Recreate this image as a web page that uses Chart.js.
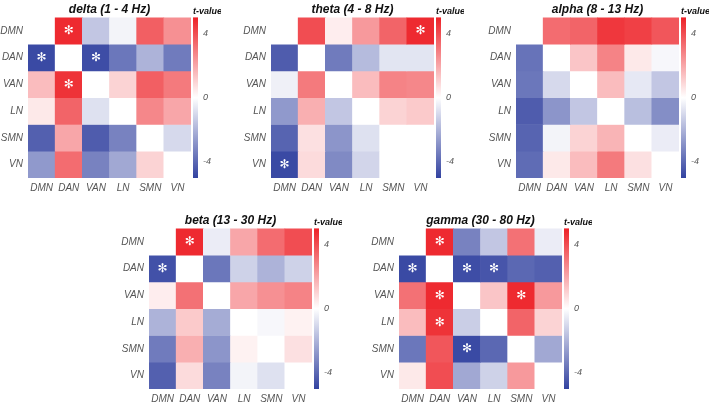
<!DOCTYPE html>
<html>
<head>
<meta charset="utf-8">
<script src="https://cdn.jsdelivr.net/npm/chart.js@4.4.1/dist/chart.umd.min.js"></script>
<style>
  html, body { margin: 0; padding: 0; background: #fff; }
  #wrap { position: relative; width: 709px; height: 402px; overflow: hidden; }
  #wrap canvas { position: absolute; }
</style>
</head>
<body>
<div id="wrap"></div>
<script>
// networks (rows = columns)
const networks = ['DMN', 'DAN', 'VAN', 'LN', 'SMN', 'VN'];

// colour bar
const tMin = -5;
const tMax = 5;
const cbTicks = [-4, 0, 4];

// t-values, row by row (DMN .. VN)
const deltaT = [
  [0, 4.8, -1.5, -0.3, 3.6, 2.5],
  [-4.8, 0, -4.7, -3.6, -2.0, -3.5],
  [1.5, 4.6, 0, 1.0, 3.6, 3.0],
  [0.5, 3.5, -0.8, 0, 2.7, 2.0],
  [-4.2, 2.0, -4.3, -3.3, 0, -1.0],
  [-2.7, 3.3, -3.3, -2.3, 1.0, 0]
];
const thetaT = [
  [0, 4.0, 0.4, 2.3, 3.5, 4.8],
  [-4.3, 0, -3.5, -1.8, -0.7, -0.7],
  [-0.4, 3.0, 0, 1.5, 2.8, 2.7],
  [-2.7, 1.8, -1.5, 0, 1.0, 1.2],
  [-4.1, 0.7, -2.8, -0.8, 0, 0],
  [-4.8, 0.8, -3.1, -1.1, 0, 0]
];
const alphaT = [
  [0, 3.3, 3.5, 4.5, 4.3, 3.8],
  [-3.7, 0, 1.3, 2.8, 0.5, -0.2],
  [-3.6, -1.0, 0, 1.5, -0.6, -1.5],
  [-4.3, -2.8, -1.5, 0, -1.7, -3.0],
  [-4.1, -0.3, 1.0, 1.7, 0, -0.5],
  [-3.9, 0.5, 1.5, 3.0, 0.7, 0]
];
const betaT = [
  [0, 4.8, -0.5, 2.0, 3.3, 4.0],
  [-4.6, 0, -3.6, -1.2, -2.0, -1.2],
  [0.4, 3.2, 0, 2.0, 2.5, 2.8],
  [-2.0, 1.2, -2.2, 0, -0.2, 0.3],
  [-3.5, 1.8, -2.8, 0.3, 0, 0.7],
  [-4.2, 0.8, -3.3, -0.3, -0.8, 0]
];
const gammaT = [
  [0, 4.8, -3.3, -1.5, 3.2, -0.5],
  [-4.8, 0, -4.7, -4.5, -4.0, -4.2],
  [3.2, 4.8, 0, 1.3, 4.8, 2.3],
  [1.5, 4.6, -1.3, 0, 3.5, 1.0],
  [-3.6, 3.8, -4.8, -4.0, 0, -2.3],
  [0.5, 4.0, -2.3, -1.2, 2.3, 0]
];

// significant cells [row, col]
const deltaSig = [[0, 1], [1, 0], [1, 2], [2, 1]];
const thetaSig = [[0, 5], [5, 0]];
const alphaSig = [];
const betaSig = [[0, 1], [1, 0]];
const gammaSig = [[0, 1], [1, 0], [1, 2], [1, 3], [2, 1], [2, 4], [3, 1], [4, 2]];

const RED = [237, 33, 39];
const BLUE = [50, 66, 160];
const FONT = "'Liberation Sans', Arial, sans-serif";

function tColor(v) {
  const t = Math.max(-1, Math.min(1, v / tMax));
  const end = t >= 0 ? RED : BLUE;
  const a = Math.abs(t);
  const c = end.map(e => Math.round(255 + (e - 255) * a));
  return `rgb(${c[0]},${c[1]},${c[2]})`;
}

// titel, kleurbalk en sterretjes
const heatPlugin = {
  id: 'heatExtras',
  afterDatasetsDraw(chart) {
    const { ctx, scales } = chart;
    const p = chart.options.plugins.heatExtras;
    // sterretjes
    ctx.save();
    ctx.fillStyle = '#fff';
    ctx.font = `12px 'DejaVu Sans', sans-serif`;
    ctx.textAlign = 'center';
    ctx.textBaseline = 'middle';
    p.sig.forEach(([r, c]) => {
      const x = scales.x.getPixelForValue(c);
      const y = scales.y.getPixelForValue(r + 0.5);
      ctx.fillText('✻', x, y + 0.5);
    });
    ctx.restore();
  },
  afterDraw(chart) {
    const { ctx, chartArea, scales } = chart;
    const p = chart.options.plugins.heatExtras;
    ctx.save();
    // kleurbalk
    const cb = scales.cb;
    const y0 = cb.getPixelForValue(tMax);
    const y1 = cb.getPixelForValue(tMin);
    const g = ctx.createLinearGradient(0, y0, 0, y1);
    g.addColorStop(0, tColor(tMax));
    g.addColorStop(0.5, tColor(0));
    g.addColorStop(1, tColor(tMin));
    ctx.fillStyle = g;
    ctx.fillRect(chartArea.right + 2, y0, 5, y1 - y0);
    // titel
    ctx.fillStyle = '#111';
    ctx.font = `italic bold 12px ${FONT}`;
    ctx.textAlign = 'center';
    ctx.textBaseline = 'middle';
    ctx.fillText(p.title, (chartArea.left + chartArea.right) / 2, chartArea.top - 8);
    ctx.font = `italic bold 9px ${FONT}`;
    ctx.textAlign = 'left';
    ctx.fillText('t-value', chartArea.right + 2, chartArea.top - 6);
    ctx.restore();
  }
};

function drawPanel(title, values, sig, left, top) {
  const canvas = document.createElement('canvas');
  canvas.width = 233;
  canvas.height = 200;
  canvas.style.left = (left - 40) + 'px';
  canvas.style.top = (top - 15) + 'px';
  document.getElementById('wrap').appendChild(canvas);

  const datasets = networks.map((rowName, r) => ({
    label: rowName,
    data: networks.map(() => [r, r + 1]),
    backgroundColor: ctx => tColor(values[r][ctx.dataIndex]),
    borderWidth: 0,
    barPercentage: 1,
    categoryPercentage: 1,
    grouped: false,
    yAxisID: 'y'
  }));

  new Chart(canvas.getContext('2d'), {
    type: 'bar',
    data: { labels: networks, datasets: datasets },
    options: {
      responsive: false,
      animation: false,
      layout: { padding: { top: 15, left: 0, right: 0, bottom: 0 } },
      plugins: {
        legend: { display: false },
        tooltip: { enabled: false },
        heatExtras: { title: title, sig: sig }
      },
      scales: {
        x: {
          grid: { display: false, drawTicks: false },
          border: { display: false },
          ticks: {
            autoSkip: false, maxRotation: 0, padding: 4,
            color: '#555', font: { family: FONT, size: 10, style: 'italic' }
          },
          afterFit: s => { s.height = 22; }
        },
        y: {
          type: 'linear', min: 0, max: 6, reverse: true, position: 'left',
          grid: { display: false, drawTicks: false },
          border: { display: false },
          afterBuildTicks: s => { s.ticks = networks.map((n, i) => ({ value: i + 0.5 })); },
          ticks: {
            padding: 5, color: '#555',
            font: { family: FONT, size: 10, style: 'italic' },
            callback: v => networks[Math.floor(v)]
          },
          afterFit: s => { s.width = 40; }
        },
        cb: {
          type: 'linear', min: tMin, max: tMax, position: 'right',
          grid: { display: false, drawTicks: false },
          border: { display: false },
          afterBuildTicks: s => { s.ticks = cbTicks.map(v => ({ value: v })); },
          ticks: {
            padding: 12, color: '#555',
            font: { family: FONT, size: 9, style: 'italic' },
            callback: v => String(v)
          },
          afterFit: s => { s.width = 30; }
        }
      }
    },
    plugins: [heatPlugin]
  });
}

drawPanel('delta (1 - 4 Hz)', deltaT, deltaSig, 28, 15);
drawPanel('theta (4 - 8 Hz)', thetaT, thetaSig, 271, 15);
drawPanel('alpha (8 - 13 Hz)', alphaT, alphaSig, 516, 15);
drawPanel('beta (13 - 30 Hz)', betaT, betaSig, 149, 226);
drawPanel('gamma (30 - 80 Hz)', gammaT, gammaSig, 399, 226);
</script>
</body>
</html>
